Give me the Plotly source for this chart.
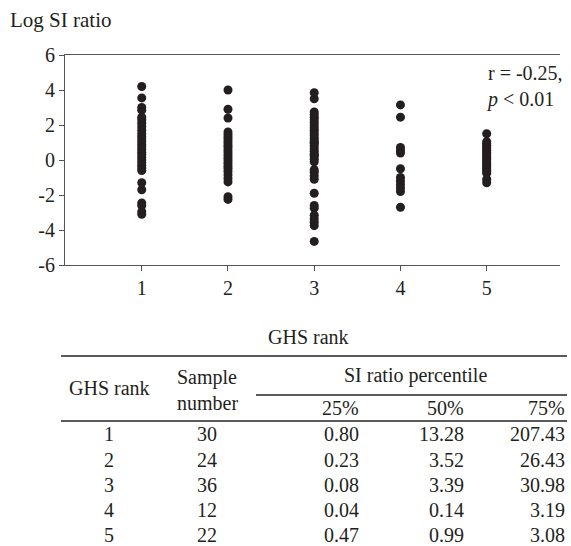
import plotly.graph_objects as go

# ---- data ----
ghs_ranks = [1, 2, 3, 4, 5]
log_si_rank1 = [4.2, 3.55, 3.0, 2.85, 2.45, 2.3, 2.1, 1.9, 1.7, 1.5, 1.35, 1.2, 1.05, 0.9, 0.75,
                0.6, 0.45, 0.3, 0.15, 0.0, -0.15, -0.3, -0.45, -0.6, -1.3, -1.7, -2.45, -2.6, -2.95, -3.1]
log_si_rank2 = [4.0, 2.9, 2.4, 1.6, 1.45, 1.3, 1.15, 1.0, 0.85, 0.7, 0.55, 0.4, 0.25, 0.1, -0.05,
                -0.2, -0.35, -0.5, -0.65, -0.85, -1.05, -1.25, -2.1, -2.25]
log_si_rank3 = [3.85, 3.5, 2.75, 2.6, 2.45, 2.3, 2.15, 2.0, 1.85, 1.7, 1.55, 1.4, 1.25, 1.1, 1.0,
                0.95, 0.8, 0.65, 0.5, 0.35, 0.3, 0.2, 0.05, -0.1, -0.55, -0.7, -0.9, -1.1, -1.9,
                -2.6, -2.75, -3.15, -3.35, -3.55, -3.75, -4.65]
log_si_rank4 = [3.15, 2.45, 0.72, 0.55, 0.4, -0.5, -1.0, -1.2, -1.4, -1.6, -1.8, -2.7]
log_si_rank5 = [1.5, 1.05, 0.95, 0.85, 0.75, 0.65, 0.55, 0.45, 0.35, 0.25, 0.15, 0.05, -0.05,
                -0.15, -0.25, -0.35, -0.45, -0.55, -0.65, -0.75, -1.1, -1.3]
groups = [log_si_rank1, log_si_rank2, log_si_rank3, log_si_rank4, log_si_rank5]

y_ticks = [-6, -4, -2, 0, 2, 4, 6]
y_tick_labels = ["-6", "-4", "-2", "0", "2", "4", "6"]

table_rank = ["1", "2", "3", "4", "5"]
table_samples = ["30", "24", "36", "12", "22"]
table_p25 = ["0.80", "0.23", "0.08", "0.04", "0.47"]
table_p50 = ["13.28", "3.52", "3.39", "0.14", "0.99"]
table_p75 = ["207.43", "26.43", "30.98", "3.19", "3.08"]
percentile_labels = ["25%", "50%", "75%"]

# ---- layout helpers ----
W, H = 571, 546
L, R, T, B = 65, 11, 55, 281
PW, PH = W - L - R, H - T - B
FONT = "Liberation Serif"
FS = 20
INK = "#231f20"


def px(x):
    return (x - L) / PW


def py(y):
    return (H - B - y) / PH


fig = go.Figure()
for rank, vals in zip(ghs_ranks, groups):
    fig.add_trace(go.Scatter(
        x=[rank] * len(vals), y=vals, mode="markers",
        marker=dict(size=9, color=INK, line=dict(width=0)),
        showlegend=False, hoverinfo="y"))

annotations = []
shapes = []

# y-axis title
annotations.append(dict(text="Log SI ratio", x=px(8), y=py(20), xref="paper", yref="paper",
                        xanchor="left", yanchor="middle", showarrow=False,
                        font=dict(family=FONT, size=21, color=INK)))
# r/p annotation
annotations.append(dict(text="r = -0.25,<br><i>p</i> < 0.01", x=px(484), y=py(86),
                        xref="paper", yref="paper", xanchor="left", yanchor="middle",
                        align="left", showarrow=False,
                        font=dict(family=FONT, size=FS, color=INK)))
# x-axis title
annotations.append(dict(text="GHS rank", x=px(308), y=py(337), xref="paper", yref="paper",
                        xanchor="center", yanchor="middle", showarrow=False,
                        font=dict(family=FONT, size=FS, color=INK)))


def txt(s, x, y, anchor="center"):
    annotations.append(dict(text=s, x=px(x), y=py(y), xref="paper", yref="paper",
                            xanchor=anchor, yanchor="middle", showarrow=False,
                            font=dict(family=FONT, size=FS, color=INK)))


def hline(x0, x1, y):
    shapes.append(dict(type="line", xref="paper", yref="paper",
                       x0=px(x0), x1=px(x1), y0=py(y), y1=py(y),
                       line=dict(color="#222222", width=1.3)))


# table rules
hline(61, 567, 356)
hline(256, 567, 395)
hline(61, 567, 421)

# table header
txt("GHS rank", 109, 388)
txt("Sample", 207, 377)
txt("number", 207, 403)
txt("SI ratio percentile", 415, 375)
for lab, xr in zip(percentile_labels, [361, 466, 567]):
    txt(lab, xr, 408, "right")

# table rows
row_y = [434, 460, 485, 510, 535]
for i, yy in enumerate(row_y):
    txt(table_rank[i], 109, yy)
    txt(table_samples[i], 207, yy)
    txt(table_p25[i], 361, yy, "right")
    txt(table_p50[i], 466, yy, "right")
    txt(table_p75[i], 567, yy, "right")

fig.update_layout(
    width=W, height=H,
    margin=dict(l=L, r=R, t=T, b=B),
    paper_bgcolor="white", plot_bgcolor="white",
    font=dict(family=FONT, size=FS, color=INK),
    annotations=annotations, shapes=shapes,
    xaxis=dict(range=[0.11, 5.85], tickvals=ghs_ranks, ticks="outside", ticklen=5,
               tickcolor="#555555", showline=True, mirror=True, linecolor="#555555",
               linewidth=1.2, showgrid=False, zeroline=False,
               tickfont=dict(family=FONT, size=FS, color=INK)),
    yaxis=dict(range=[-6, 6], tickvals=y_ticks, ticktext=y_tick_labels, ticks="outside",
               ticklen=5, tickcolor="#555555", showline=True, linecolor="#555555",
               linewidth=1.2, showgrid=False, zeroline=False,
               tickfont=dict(family=FONT, size=FS, color=INK)),
)

fig.write_html("out.html")
